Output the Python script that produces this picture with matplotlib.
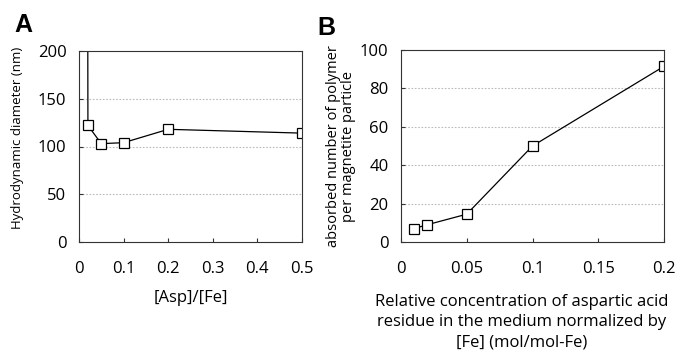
import numpy as np
import matplotlib
matplotlib.use("Agg")
import matplotlib.pyplot as plt

plt.rcParams['font.family'] = ['Open Sans', 'DejaVu Sans']

# Panel A: hydrodynamic diameter vs [Asp]/[Fe]
# first point lies far above the axis (only its line is visible)
asp_ratio = [0.01, 0.02, 0.05, 0.1, 0.2, 0.5]
diameter_nm = [3000, 122, 103, 104, 118, 114]

# Panel B: absorbed number of polymer per particle
asp_conc = [0.01, 0.02, 0.05, 0.1, 0.2]
absorbed_n = [7, 9, 14.5, 50, 91.5]

a_xticks = [0, 0.1, 0.2, 0.3, 0.4, 0.5]
a_xticklabels = ["0", "0.1", "0.2", "0.3", "0.4", "0.5"]
a_yticks = [0, 50, 100, 150, 200]
b_xticks = [0, 0.05, 0.1, 0.15, 0.2]
b_xticklabels = ["0", "0.05", "0.1", "0.15", "0.2"]
b_yticks = [0, 20, 40, 60, 80, 100]

fig = plt.figure(figsize=(6.81, 3.52), dpi=100)
W, H = 681, 352

def px_axes(x0, x1, y0, y1):
    return fig.add_axes([x0 / W, 1 - y1 / H, (x1 - x0) / W, (y1 - y0) / H])

axA = px_axes(79, 302, 51, 242)
axB = px_axes(401, 664, 50, 242)

mstyle = dict(color='black', lw=0.9, marker='s', ms=7.5, mfc='white',
              mec='black', mew=0.9, clip_on=True)

def style_axes(ax, yticks):
    for s in ax.spines.values():
        s.set_linewidth(0.8)
        s.set_color('#333333')
    ax.tick_params(direction='in', length=3, width=0.8, color='#333333',
                   labelsize=12, top=False, right=False)
    ax.tick_params(axis='x', pad=14)
    ax.tick_params(axis='y', pad=9)
    for y in yticks[1:-1]:
        ax.axhline(y, color='#bbbbbb', lw=0.8, ls=(0, (1.5, 1.5)), zorder=0)

# A
axA.plot(asp_ratio, diameter_nm, **mstyle)
axA.set_xlim(0, 0.5)
axA.set_ylim(0, 200)
axA.set_xticks(a_xticks)
axA.set_xticklabels(a_xticklabels)
axA.set_yticks(a_yticks)
style_axes(axA, a_yticks)
axA.set_ylabel("Hydrodynamic diameter (nm)", fontsize=9.5)
axA.yaxis.set_label_coords(-0.245, 0.545)
axA.set_xlabel("[Asp]/[Fe]", fontsize=12, labelpad=9)

# B
axB.plot(asp_conc, absorbed_n, **mstyle)
axB.set_xlim(0, 0.2)
axB.set_ylim(0, 100)
axB.set_xticks(b_xticks)
axB.set_xticklabels(b_xticklabels)
axB.set_yticks(b_yticks)
style_axes(axB, b_yticks)
axB.set_ylabel("absorbed number of polymer\nper magnetite particle",
               fontsize=10.5, labelpad=3, linespacing=0.95)
axB.set_xlabel("Relative concentration of aspartic acid\n"
               "residue in the medium normalized by\n[Fe] (mol/mol-Fe)",
               fontsize=12, linespacing=1.38)
axB.xaxis.set_label_coords(0.46, -0.27)

fig.text(14 / W, 1 - 25 / H, "A", fontsize=18, fontweight='bold',
         va='center', ha='left', family=['Liberation Sans', 'DejaVu Sans'])
fig.text(317 / W, 1 - 28 / H, "B", fontsize=18, fontweight='bold',
         va='center', ha='left', family=['Liberation Sans', 'DejaVu Sans'])

fig.savefig("out.png", dpi=100)
